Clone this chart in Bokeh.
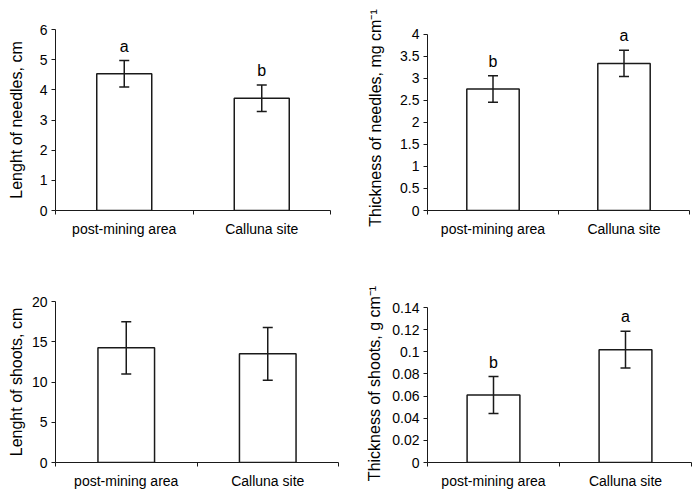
from bokeh.plotting import figure
from bokeh.models import (ColumnDataSource, Range1d, FixedTicker, Whisker, TeeHead, Label)
from bokeh.layouts import column, row
from bokeh.embed import file_html
from bokeh.resources import INLINE

# ---- data ----
categories = ["post-mining area", "Calluna site"]
cat_pos = [0.5, 1.5]
cat_edges = [0, 1, 2]

needle_length = [4.53, 3.72]
needle_length_err = [0.44, 0.44]
needle_length_letters = ["a", "b"]
needle_length_ticks = [0, 1, 2, 3, 4, 5, 6]
needle_length_tick_labels = ["0", "1", "2", "3", "4", "5", "6"]

needle_thickness = [2.76, 3.34]
needle_thickness_err = [0.30, 0.30]
needle_thickness_letters = ["b", "a"]
needle_thickness_ticks = [0, 0.5, 1, 1.5, 2, 2.5, 3, 3.5, 4]
needle_thickness_tick_labels = ["0", "0.5", "1", "1.5", "2", "2.5", "3", "3.5", "4"]

shoot_length = [14.25, 13.5]
shoot_length_err = [3.25, 3.27]
shoot_length_letters = ["", ""]
shoot_length_ticks = [0, 5, 10, 15, 20]
shoot_length_tick_labels = ["0", "5", "10", "15", "20"]

shoot_thickness = [0.061, 0.102]
shoot_thickness_err = [0.0167, 0.0166]
shoot_thickness_letters = ["b", "a"]
shoot_thickness_ticks = [0, 0.02, 0.04, 0.06, 0.08, 0.1, 0.12, 0.14]
shoot_thickness_tick_labels = ["0", "0.02", "0.04", "0.06", "0.08", "0.1", "0.12", "0.14"]

FONT = "Liberation Sans"
INK = "#1a1a1a"


def panel(vals, errs, letters, ticks, tick_labels, ylabel, width, height,
          bl, br, bt_axis, bb, label_standoff, headroom=0.0):
    frame_h = height - bt_axis - bb
    bt = int(round(bt_axis - frame_h * headroom))
    y_top = ticks[-1] + (ticks[-1] - ticks[0]) * headroom
    p = figure(width=width, height=height, output_backend="svg", toolbar_location=None,
               x_range=Range1d(0, 2), y_range=Range1d(ticks[0], y_top),
               min_border_left=bl, min_border_right=br, min_border_top=bt,
               min_border_bottom=bb)
    p.outline_line_color = None
    p.xgrid.visible = False
    p.ygrid.visible = False

    upper = [v + e for v, e in zip(vals, errs)]
    lower = [v - e for v, e in zip(vals, errs)]
    src = ColumnDataSource(dict(x=cat_pos, top=vals, upper=upper, lower=lower))
    p.vbar(x="x", top="top", bottom=0, width=0.4, source=src,
           fill_color="white", line_color=INK, line_width=1.5)
    w = Whisker(base="x", upper="upper", lower="lower", source=src,
                line_color=INK, line_width=1.5, level="overlay",
                upper_head=TeeHead(size=10, line_color=INK, line_width=1.5),
                lower_head=TeeHead(size=10, line_color=INK, line_width=1.5))
    p.add_layout(w)
    for xv, yv, letter in zip(cat_pos, upper, letters):
        if letter:
            p.add_layout(Label(x=xv, y=yv, text=letter, x_units="data", y_units="data",
                               text_align="center", text_baseline="bottom", y_offset=6,
                               text_font=FONT, text_font_size="16px",
                               text_color="black"))

    # x axis
    xa = p.xaxis[0]
    xa.ticker = FixedTicker(ticks=cat_pos, minor_ticks=cat_edges)
    xa.major_label_overrides = {t: c for t, c in zip(cat_pos, categories)}
    xa.major_tick_out = 0
    xa.major_tick_in = 0
    xa.minor_tick_out = 4
    xa.minor_tick_in = 0
    xa.minor_tick_line_color = INK
    xa.axis_line_color = INK
    xa.major_label_text_font = FONT
    xa.major_label_text_font_size = "14px"
    xa.major_label_text_color = "black"
    xa.major_label_standoff = 6

    # y axis
    ya = p.yaxis[0]
    ya.bounds = (ticks[0], ticks[-1])
    ya.ticker = FixedTicker(ticks=ticks, minor_ticks=[])
    ya.major_label_overrides = {t: s for t, s in zip(ticks, tick_labels)}
    ya.major_tick_out = 4
    ya.major_tick_in = 0
    ya.major_tick_line_color = INK
    ya.axis_line_color = INK
    ya.major_label_text_font = FONT
    ya.major_label_text_font_size = "14px"
    ya.major_label_text_color = "black"
    ya.major_label_standoff = 4
    ya.axis_label = ylabel
    ya.axis_label_text_font = FONT
    ya.axis_label_text_font_size = "16px"
    ya.axis_label_text_font_style = "normal"
    ya.axis_label_text_color = "black"
    ya.axis_label_standoff = label_standoff
    return p


p1 = panel(needle_length, needle_length_err, needle_length_letters,
           needle_length_ticks, needle_length_tick_labels,
           "Lenght of needles, cm", 346, 245, 55, 16, 29, 35, 12)
p2 = panel(needle_thickness, needle_thickness_err, needle_thickness_letters,
           needle_thickness_ticks, needle_thickness_tick_labels,
           "Thickness of needles, mg cm\u207b\u00b9", 346, 245, 81, 3, 34, 35, 13,
           headroom=0.05)
p3 = panel(shoot_length, shoot_length_err, shoot_length_letters,
           shoot_length_ticks, shoot_length_tick_labels,
           "Lenght of shoots, cm", 346, 246, 55, 8, 56, 28, 4)
p4 = panel(shoot_thickness, shoot_thickness_err, shoot_thickness_letters,
           shoot_thickness_ticks, shoot_thickness_tick_labels,
           "Thickness of shoots, g cm\u207b\u00b9", 346, 246, 81, 1, 62, 28, 6,
           headroom=0.02)

layout = column(row(column(p1), column(p2)), row(column(p3), column(p4)))
open("out.html", "w").write(file_html(layout, INLINE))
